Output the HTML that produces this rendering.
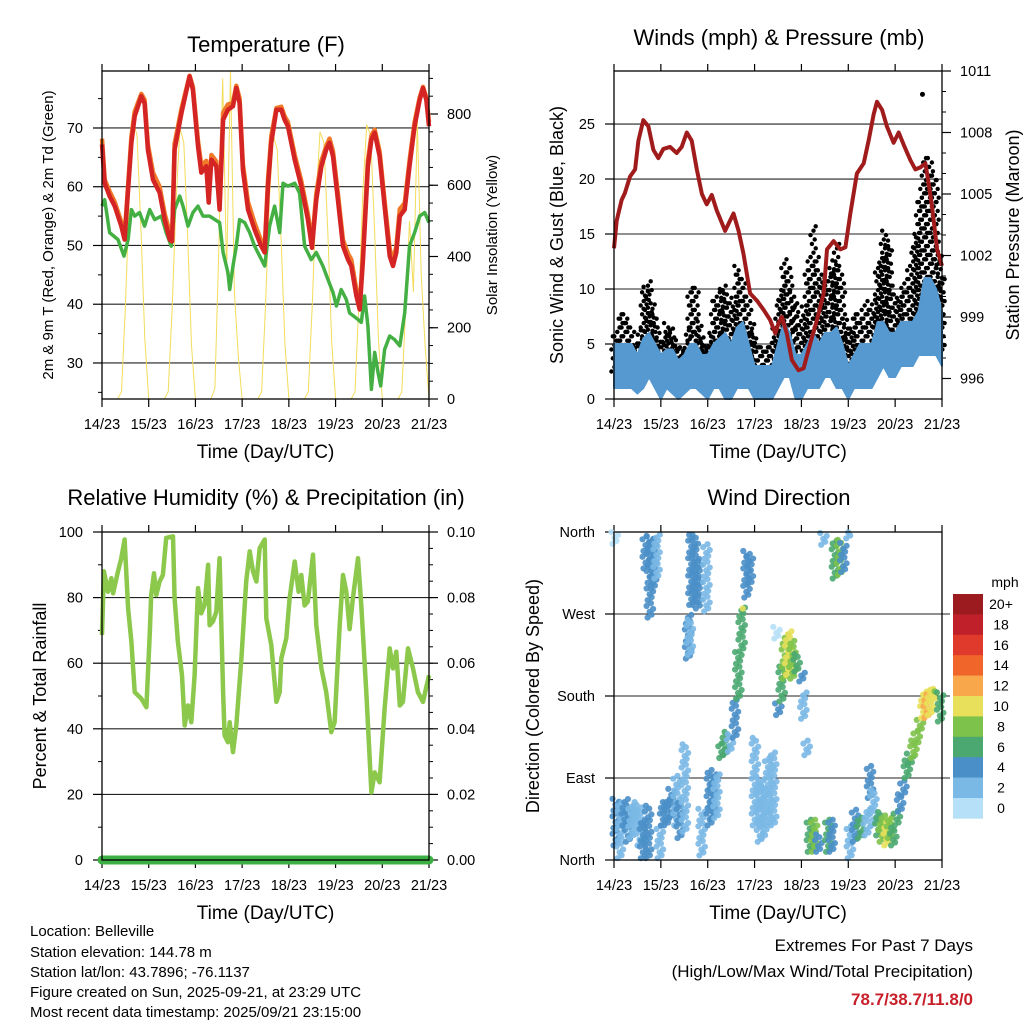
<!DOCTYPE html>
<html><head><meta charset="utf-8"><style>
html,body{margin:0;padding:0;background:#fff}
svg{display:block}
text{font-family:"Liberation Sans",Arial,sans-serif;fill:#000}
</style></head><body>
<svg id="chart" width="1024" height="1024" viewBox="0 0 1024 1024" xmlns="http://www.w3.org/2000/svg">
<rect width="1024" height="1024" fill="#fff"/>
<g id="g1"></g>
<g id="g2"></g>
<g id="g3"></g>
<g id="g4"></g>
<g id="g5">
<text x="30" y="936" font-size="15">Location: Belleville</text>
<text x="30" y="957" font-size="15">Station elevation: 144.78 m</text>
<text x="30" y="977" font-size="15">Station lat/lon: 43.7896; -76.1137</text>
<text x="30" y="997" font-size="15">Figure created on Sun, 2025-09-21, at 23:29 UTC</text>
<text x="30" y="1017" font-size="15">Most recent data timestamp: 2025/09/21 23:15:00</text>
<text x="973" y="951" font-size="17" text-anchor="end">Extremes For Past 7 Days</text>
<text x="973" y="977" font-size="17" text-anchor="end">(High/Low/Max Wind/Total Precipitation)</text>
<text x="973" y="1005" font-size="17" font-weight="bold" text-anchor="end" style="fill:#c8202a">78.7/38.7/11.8/0</text>
</g>
</svg>
<script>
// ---- data ----
const dayLabels=["14/23","15/23","16/23","17/23","18/23","19/23","20/23","21/23"];
const tempHours=[0,1.4,3.9,6.5,9.9,11.6,15.1,16.8,20.2,21.9,23.6,26.2,29.6,32.2,34.8,36,37.3,40.8,45,46.7,49.3,51,53.6,54.8,56.2,58.7,60.4,62.2,64.7,67.3,69,70.7,72.4,75,78.4,81.8,83.6,85.3,87,89.6,92.1,93.8,95.5,99,102.4,105.8,107.9,110.1,112.7,115.2,116.9,118.7,121.2,123.8,126.4,128.1,130.7,132.4,134.1,136.6,138.4,140.1,142.6,145.2,147.8,149.5,151.2,153,155.5,158,160.6,163.2,164.9,166.6,168];
const tempRed=[67.2,60.6,58.4,56.7,53.3,51,67.5,72,75.4,74.2,66.3,61.2,59,54.4,51,50.7,66.3,72.5,78.8,76.5,66.9,62.4,63.5,57.3,64.6,63.5,56.1,71.4,73.1,73.7,76.8,74.2,62.9,56.1,52.7,49.9,48.8,60.1,67.5,73.1,73.1,71.4,70.3,64.6,60.1,54.4,49.6,57.8,63.5,66.3,67.5,65.2,57.8,49.9,47.6,46.5,41.4,39.1,47.6,63.5,68,69.2,65.2,56.7,48.2,46.5,48.8,55,56.1,63.5,70.3,74.8,76.8,74.8,70.3];
const tempOrange=[68.2,61.2,59.2,57.4,54,51.6,68.5,72.8,75.8,74.8,67.2,62.4,60,55.4,52.2,51.4,67.3,73.2,78.9,77,67.8,63.6,64.4,58.2,65.4,64.3,57.2,72.6,74,74.3,77.2,75,63.8,57.4,53.8,50.8,49.6,61.2,68.6,73.4,73.6,72,71,65.4,61,55.3,50.3,58.8,64.4,66.9,68.2,66,58.8,50.9,48.6,47.6,42.4,39.8,48.6,64.5,68.7,69.7,66,57.6,49.4,47.4,49.8,56.2,57.2,64.4,71,75.2,77,75.2,71];
const dewHours=[0,1.4,3.9,8.2,11.3,13.4,15.1,16.8,19.3,21.9,24.5,27.1,30.5,33,35.6,37.3,39.9,41.6,44.2,46.7,49.3,51.9,55.3,60.4,62.2,64.7,65.6,67.3,69,70.7,73.3,75.9,78.4,81,83.6,86.1,88.7,91.3,93,95.5,99,101.5,104.1,107.5,110.1,113.5,116.1,118.7,120.4,122.9,125.5,127.2,131.5,133.2,134.9,136.6,138.4,140.1,141.8,143.2,145.2,147.8,150.3,153,155.5,158,160.6,163.2,165.8,168];
const dewVals=[56.7,57.8,52.2,51,48.2,51,56.1,55,55.6,53.3,56.1,54.4,55,52.2,49.9,56.1,58.4,56.7,53.3,55.6,56.7,55,55,53.9,48.8,45.4,42.5,46.5,49.9,54.4,53.9,52.2,49.9,48.2,46.5,53.3,56.7,52.2,60.6,60.1,60.6,58.9,49.9,47.6,48.8,46.5,44.2,42,39.7,42.5,40.8,38.5,37.4,36.9,41.4,36.3,25.5,31.8,28.4,26.1,32.3,34.6,34,32.9,38.5,49.9,52.2,55,55.6,53.9];
const solarStepHours=2;
const solarVals=[0,0,0,0,0,20,260,570,780,740,480,170, 0,0,0,0,0,20,250,550,760,720,460,150, 0,0,0,0,0,30,420,900,350,920,300,120, 0,0,0,0,0,20,260,560,740,700,450,150, 0,0,0,0,0,20,260,560,750,720,470,160, 0,0,0,0,0,20,270,580,770,740,480,170, 0,0,0,0,0,20,250,500,300,780,350,150, 0];
const presHours=[0,1.4,3.9,5.6,8.2,10.8,12.5,15,17.6,20.2,22.7,25.3,28.7,32.1,34.7,37.3,39.8,42.4,45,47.5,50.1,52.6,56.9,61.2,63.8,66.3,69.7,73.2,76.6,80,82.6,84.3,86,88.5,91.1,94.5,97.1,100.5,103.9,107.4,109.1,112.5,115.9,118.5,121,124.4,127.9,130.4,133,134.7,137.3,139.8,143.2,145.8,148.4,151.8,154.4,156.9,159.5,161.2,162.9,165.5,168];
const presVals=[1002.35,1003.7,1004.7,1005.05,1005.85,1006.2,1007.6,1008.6,1008.3,1007.15,1006.75,1007.2,1007.3,1007,1007.3,1008,1007.6,1006.2,1005,1004.5,1004.95,1004.2,1003.2,1004.05,1003.2,1002.1,1000.15,999.8,999.35,998.85,998.2,998.7,999,998.2,996.9,996.4,996.5,997.7,998.85,1000.15,1002.3,1002.7,1002.3,1002.4,1004,1006,1006.5,1007.6,1008.9,1009.5,1009.1,1008.3,1007.5,1008,1007.4,1006.65,1006.2,1006.3,1006.5,1005.5,1004.4,1002.3,1001.5];
const windStepHours=3;
const windLo=[1,1,1,1,0.5,1,2,1,0,1,0.5,0,0.5,1,1,0.5,0,1,1,0,0,1,1,1,0,0,0,0,1,2,2,0,0,1,1,1,2,2,1,1,0,1,1,1,1,2,3,2,2,3,3,3,4,4,4,4,3];
const windHi=[5,5,5,5,4,5.5,6,5,4,4.5,4.5,3.5,4,5,5,4,4,5,5.5,6,5,6.5,7,5,3,3,3,3,5,7,6,4,4,5,6,5,6,6,6.5,5,3,4,5,5,5,7,7,6,6,7,7,7,8,11,11,10,8];
const gustHi=[6,8,8,6.5,5,10,11,8,5.5,7,6.5,5,4.5,10.5,10,6,5,9,10,10.5,8,12.5,11,9,6,5,5,5.5,9,13,12,9,7,12,16,12,11,12,14.5,11,6,8,8,9,8,12,15.5,14,9,10,11,14,18,22,22,20,11];
const gustOutlierHours=[158];
const gustOutlierVals=[27.7];
const rhHours=[0,1,3.1,4.8,5.7,8.2,9.9,11.6,13.4,15.1,16.8,20.2,22.8,24.5,25.3,26.7,27.9,29.6,31.3,33,36.5,37.3,39,41.1,42.5,44.2,45.9,47.6,49.3,51,52.7,54.5,55.3,57,58.7,60.4,62.2,63,64.7,65.6,67.3,69,71.6,74.1,75.9,77.6,79.3,81,83.6,84.4,87,89.6,91.3,92.1,94.7,96.4,99,101,102.4,104.1,105.8,108.4,110.1,112.7,115.2,117.8,119.5,122.1,123.8,125.5,127.2,128.9,131.5,133.2,135.8,138.4,140.1,142.6,145.2,147.8,149.5,151.2,153,154.6,157.2,159.8,162.3,164.9,168];
const rhVals=[68.6,88,81.8,85.9,81.3,88,92,97.7,76.7,66.5,51.2,49.2,46.6,68.6,80.8,87.4,80.8,84.9,86.9,98.2,98.7,79.8,66.5,56.3,41,47.1,42,56.3,82.9,75.2,77.8,90,71.6,72.7,75.7,92,51.2,38,35.9,42,32.9,41,61.4,84.9,94.1,88,84.9,95.1,97.7,73.7,65.5,48.2,51.2,61.4,67.6,79.8,91,81.8,86.9,77.6,78.8,93.1,71.6,58.4,51.2,39,42,71.6,86.9,81.8,70.4,79.8,92,77.6,51.2,20.6,26.7,23.7,46.1,64.5,58.4,63.5,47.1,48.2,64.5,58.4,51.2,48.2,56.3];
const precipHours=[0,168];
const precipVals=[0,0];
const dirHours=[0.5,1,3.1,5.6,7.4,9.1,10.8,13.3,15,16.4,17.6,18.5,20.2,21.9,23.6,25.3,27,29.6,32.1,33.8,36.4,38.1,39,39.8,41.5,43.2,45,47.5,49.2,50.9,52.6,55.2,56.9,59.5,62.1,63.8,65.5,67.2,68,69.7,72.3,74.9,76.6,79.1,81.7,83.4,84.3,86,87.7,89.4,91.6,93.7,96.2,97.1,98.8,100.5,102.6,104.8,107.4,109.9,111.6,113.3,115.9,117.6,120.2,121,123.6,126.2,129.6,131.3,133,135.6,137.3,139.8,141.5,143.2,145,146.7,148.4,150.1,151.8,153.5,155.2,156.9,158.6,160.3,162,163.8,165.5,167.2];
const dirLo=[347,16,2,38,20,24,38,16,2,320,2,266,298,309,2,38,38,46,38,24,31,221,225,280,280,276,5,273,38,46,46,112,115,119,134,177,229,276,288,302,38,20,24,38,38,243,159,174,199,203,199,207,196,155,115,9,9,9,346,9,9,309,313,316,353,2,20,24,27,68,38,27,20,16,24,16,38,53,71,90,104,112,126,141,156,156,159,174,185,152];
const dirHi=[360,68,64,68,57,60,64,60,46,357,60,357,353,360,38,64,68,79,93,64,130,272,265,357,357,331,57,349,100,97,97,130,141,141,177,229,280,276,342,335,134,93,82,112,119,258,174,214,247,251,243,229,207,185,134,46,46,31,360,46,46,353,353,349,360,38,57,49,57,104,79,53,49,46,49,38,57,75,90,112,119,134,145,156,185,185,188,188,188,185];
const dirSpd=[1,4,2,4,4,2,2,2,4,4,4,4,4,2,2,4,4,4,2,4,2,4,2,4,5,4,2,2,4,4,2,6,6,2,4,6,7,10,4,4,2,2,2,2,2,1,4,6,8,10,8,6,4,2,2,6,8,4,2,6,4,6,8,4,2,2,4,6,3,4,2,6,8,10,8,6,6,4,4,6,6,8,8,8,10,12,10,10,8,6];
const cbLabels=["20+","18","16","14","12","10","8","6","4","2","0"];
const cbColors=["#9b1b1e","#c0202a","#e03a2d","#f06529","#f8a84a","#e8e05a","#7dc24a","#4aa870","#4a8fc8","#7ab8e6","#b6e0f7"];

// ---- helpers ----
const NS="http://www.w3.org/2000/svg";
function el(parent,tag,attrs,txt){const e=document.createElementNS(NS,tag);for(const k in attrs)e.setAttribute(k,attrs[k]);if(txt!==undefined)e.textContent=txt;parent.appendChild(e);return e;}
function lin(d0,d1,r0,r1){return v=>r0+(v-d0)/(d1-d0)*(r1-r0);}
function pts(xs,ys,sx,sy){return xs.map((t,i)=>sx(t).toFixed(1)+","+sy(ys[i]).toFixed(1)).join(" ");}
function spdColor(s){let i=Math.min(10,Math.floor(s/2));return cbColors[10-i];}

function frame(g,x0,x1,y0,y1){
  const xs=lin(0,168,x0,x1);
  dayLabels.forEach((lab,i)=>{
    const x=xs(i*24);
    let t=el(g,"line",{x1:x,x2:x,y1:y1,y2:y1+8,stroke:"#000","stroke-width":1.2});
    
    
    el(g,"line",{x1:x,x2:x,y1:y0,y2:y0-7,stroke:"#000","stroke-width":1.2});
    let tx=el(g,"text",{x:x,y:y1+30,"font-size":14.5,"text-anchor":"middle"},lab);
    
    
  });
  let xt=el(g,"text",{x:(x0+x1)/2,y:y1+59,"font-size":19,"text-anchor":"middle"},"Time (Day/UTC)");
  
  
  return xs;
}
function box(g,x0,x1,y0,y1){
  let b=el(g,"rect",{x:x0,y:y0,width:x1-x0,height:y1-y0,fill:"none",stroke:"#000","stroke-width":1.3});
  
  
}
function leftAxis(g,x0,ys,ticks,labels){
  ticks.forEach((v,i)=>{
    const y=ys(v);
    el(g,"line",{x1:x0-9,x2:x0,y1:y,y2:y,stroke:"#000","stroke-width":1.2});
    let t=el(g,"text",{x:x0-19,y:y+5,"font-size":14.5,"text-anchor":"end"},labels[i]);
    
    
  });
}
function minorLeft(g,x0,ys,vals){vals.forEach(v=>el(g,"line",{x1:x0-4,x2:x0,y1:ys(v),y2:ys(v),stroke:"#000"}));}
function minorRight(g,x1,ys,vals){vals.forEach(v=>el(g,"line",{x1:x1,x2:x1+4,y1:ys(v),y2:ys(v),stroke:"#000"}));}
function grid(g,x0,x1,ys,vals){vals.forEach(v=>{let gl=el(g,"line",{x1:x0,x2:x1,y1:ys(v),y2:ys(v),stroke:"#222","stroke-width":1.1});
  
  });}
function rightAxis(g,x1,ys,ticks,labels){
  ticks.forEach((v,i)=>{
    const y=ys(v);
    el(g,"line",{x1:x1,x2:x1+9,y1:y,y2:y,stroke:"#000","stroke-width":1.2});
    let t=el(g,"text",{x:x1+18,y:y+5,"font-size":14.5,"text-anchor":"start"},labels[i]);
    
    
  });
}
function range(a,b,s){const r=[];for(let v=a;v<=b+1e-9;v+=s)r.push(+v.toFixed(4));return r;}
function title(g,x,y,s,name){let t=el(g,"text",{x:x,y:y,"font-size":22,"text-anchor":"middle"},s);}
function vtitle(g,x,y,s,size,name){let t=el(g,"text",{x:x,y:y,"font-size":size,"text-anchor":"middle",transform:`rotate(-90 ${x} ${y})`},s);}

// ---- Panel 1: Temperature ----
(function(){
  const g=document.getElementById("g1");
  const X0=102,X1=429,Y0=71,Y1=399;
  const xs=frame(g,X0,X1,Y0,Y1);
  const ys=lin(23.87,79.7,Y1,Y0);
  const ss=lin(0,920.7,Y1,Y0);
  grid(g,X0,X1,ys,[30,40,50,60,70]);
  leftAxis(g,X0,ys,[30,40,50,60,70],["30","40","50","60","70"]);
  minorLeft(g,X0,ys,[25,35,45,55,65,75]);
  rightAxis(g,X1,ss,[0,200,400,600,800],["0","200","400","600","800"]);
  minorRight(g,X1,ss,range(50,900,50));
  const sh=solarVals.map((v,i)=>i*solarStepHours);
  let sl=el(g,"polyline",{points:pts(sh,solarVals,xs,ss),fill:"none",stroke:"#f3dc5a","stroke-width":1});
  
  
  let dl=el(g,"polyline",{points:pts(dewHours,dewVals,xs,ys),fill:"none",stroke:"#44b044","stroke-width":3.5,"stroke-linejoin":"round"});
  
  
  let ol=el(g,"polyline",{points:pts(tempHours,tempOrange,xs,ys),fill:"none",stroke:"#f07a2a","stroke-width":4.5,"stroke-linejoin":"round"});
  
  
  let rl=el(g,"polyline",{points:pts(tempHours,tempRed,xs,ys),fill:"none",stroke:"#d42424","stroke-width":4.5,"stroke-linejoin":"round"});
  
  
  box(g,X0,X1,Y0,Y1);
  title(g,266,52,"Temperature (F)","temperature-title");
  vtitle(g,53,235,"2m & 9m T (Red, Orange) & 2m Td (Green)",15,"temp-y-axis-title");
  vtitle(g,497,235,"Solar Insolation (Yellow)",15,"solar-y-axis-title");
})();

// ---- Panel 2: Winds & Pressure ----
(function(){
  const g=document.getElementById("g2");
  const X0=614,X1=942,Y0=71,Y1=399;
  const xs=frame(g,X0,X1,Y0,Y1);
  const ws=lin(0,29.82,Y1,Y0);
  const ps=lin(995,1011,Y1,Y0);
  grid(g,X0,X1,ws,[5,10,15,20,25]);
  leftAxis(g,X0,ws,[0,5,10,15,20,25],["0","5","10","15","20","25"]);
  rightAxis(g,X1,ps,[996,999,1002,1005,1008,1011],["996","999","1002","1005","1008","1011"]);
  minorRight(g,X1,ps,range(996,1011,1));
  const wh=windHi.map((v,i)=>i*windStepHours);
  const gg=el(g,"g",{fill:"#000"});
  
  
  function dotsCol(xc,lo,top,seed){
    for(let v=lo,k=seed;v<=top;v+=0.4,k++){
      const off=[-2.6,0.4,2.6,-1.2,1.6][k%5];
      el(gg,"circle",{cx:(xc+off).toFixed(1),cy:ws(v).toFixed(1),r:2.2});
    }
  }
  for(let i=0;i<wh.length;i++){
    dotsCol(xs(wh[i]),Math.max(1.5,windLo[i]+1.5),gustHi[i],i);
    if(i<wh.length-1){
      const tm=(wh[i]+wh[i+1])/2;
      const lo=Math.max(1.5,(windLo[i]+windLo[i+1])/2+1.5);
      const top=Math.min(gustHi[i],gustHi[i+1])+0.3*Math.abs(gustHi[i]-gustHi[i+1]);
      dotsCol(xs(tm),lo,top,i+2);
    }
  }
  gustOutlierHours.forEach((t,i)=>el(gg,"circle",{cx:xs(t),cy:ws(gustOutlierVals[i]),r:2.5}));
  const up=wh.map((t,i)=>xs(t).toFixed(1)+","+ws(windHi[i]).toFixed(1));
  const dn=wh.map((t,i)=>xs(t).toFixed(1)+","+ws(windLo[i]).toFixed(1)).reverse();
  let wb=el(g,"polygon",{points:up.concat(dn).join(" "),fill:"#5599d0",stroke:"#5599d0","stroke-width":2,"stroke-linejoin":"round"});
  
  
  let pl=el(g,"polyline",{points:pts(presHours,presVals,xs,ps),fill:"none",stroke:"#a01c1c","stroke-width":4,"stroke-linejoin":"round"});
  
  
  box(g,X0,X1,Y0,Y1);
  title(g,779,45,"Winds (mph) & Pressure (mb)","winds-title");
  vtitle(g,563,235,"Sonic Wind & Gust (Blue, Black)",18,"wind-y-axis-title");
  vtitle(g,1019,235,"Station Pressure (Maroon)",18,"pressure-y-axis-title");
})();

// ---- Panel 3: RH & Precip ----
(function(){
  const g=document.getElementById("g3");
  const X0=102,X1=429,Y0=532,Y1=860;
  const xs=frame(g,X0,X1,Y0,Y1);
  const ys=lin(0,100,Y1,Y0);
  const ps=lin(0,0.1,Y1,Y0);
  grid(g,X0,X1,ys,[20,40,60,80]);
  leftAxis(g,X0,ys,[0,20,40,60,80,100],["0","20","40","60","80","100"]);
  minorLeft(g,X0,ys,[10,30,50,70,90]);
  rightAxis(g,X1,ps,[0,0.02,0.04,0.06,0.08,0.1],["0.00","0.02","0.04","0.06","0.08","0.10"]);
  minorRight(g,X1,ps,range(0.005,0.1,0.005));
  let rl=el(g,"polyline",{points:pts(rhHours,rhVals,xs,ys),fill:"none",stroke:"#8cc84b","stroke-width":4.5,"stroke-linejoin":"round"});
  
  
  let pr=el(g,"polyline",{points:pts(precipHours,precipVals,xs,ps),fill:"none",stroke:"#3cb043","stroke-width":9,"stroke-linecap":"round"});
  
  
  box(g,X0,X1,Y0,Y1);
  title(g,266,505,"Relative Humidity (%) & Precipitation (in)","humidity-title");
  vtitle(g,46,696,"Percent & Total Rainfall",18,"humidity-y-axis-title");
})();

// ---- Panel 4: Wind Direction ----
(function(){
  const g=document.getElementById("g4");
  const X0=614,X1=942,Y0=532,Y1=860;
  const xs=frame(g,X0,X1,Y0,Y1);
  const ds=lin(0,360,Y1,Y0);
  leftAxis(g,X0,ds,[0,90,180,270,360],["North","East","South","West","North"]);
  [90,180,270].forEach(v=>el(g,"line",{x1:X0,x2:X1+8,y1:ds(v),y2:ds(v),stroke:"#222","stroke-width":1.1}));
  const dg=el(g,"g",{});
  
  
  dirHours.forEach((t,i)=>{
    const c=spdColor(dirSpd[i]);
    for(let d=dirLo[i],k=0;d<=dirHi[i]+0.1;d+=3.2,k++){
      const off=[-2.5,1.5,-0.5,3,-3.5,0.8][k%6];
      el(dg,"circle",{cx:(xs(t)+off).toFixed(1),cy:ds(d).toFixed(1),r:3.1,fill:c,"fill-opacity":0.9});
    }
  });
  box(g,X0,X1,Y0,Y1);
  title(g,779,505,"Wind Direction","wind-direction-title");
  vtitle(g,539,696,"Direction (Colored By Speed)",18,"direction-y-axis-title");
  const cb=el(g,"g",{});
  
  
  const cy0=594,ch=20.4;
  cbColors.forEach((c,i)=>{
    el(cb,"rect",{x:953,y:(cy0+i*ch).toFixed(1),width:30,height:ch+0.3,fill:c});
    let t=el(cb,"text",{x:1001,y:(cy0+i*ch+15).toFixed(1),"font-size":14,"text-anchor":"middle"},cbLabels[i]);
    
    
  });
  let u=el(cb,"text",{x:1005,y:587,"font-size":14,"text-anchor":"middle"},"mph");
  
  
})();
</script>
</body></html>
